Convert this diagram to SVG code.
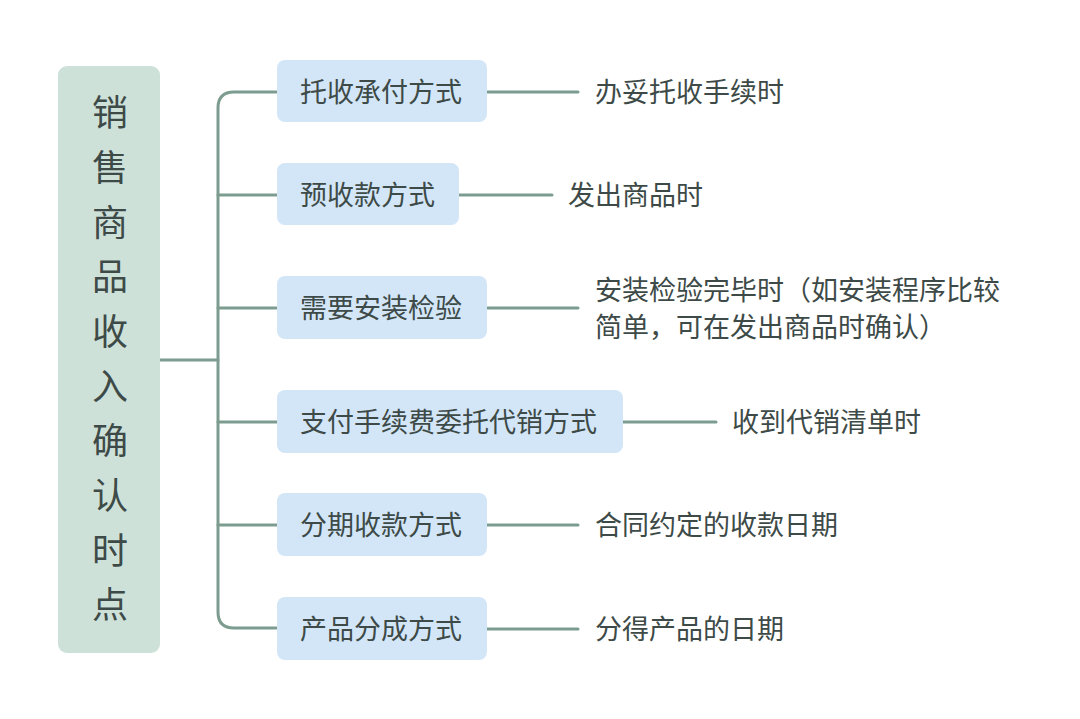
<svg xmlns="http://www.w3.org/2000/svg" width="1080" height="719" viewBox="0 0 1080 719">
<style>
.t{font-family:"Noto Sans CJK SC","Noto Sans",sans-serif;fill:#3d4a47;font-size:27px;dominant-baseline:central}
.b{fill:#d3e6f8}
.c{fill:none;stroke:#7d9c90;stroke-width:3;stroke-linecap:round}
.r{font-family:"Noto Sans CJK SC",sans-serif;fill:#3d4a47;font-size:36px;text-anchor:middle;dominant-baseline:central}
</style>
<rect width="1080" height="719" fill="#fff"/>
<g id="connectors">
<path class="c" d="M160 360H218"/>
<path class="c" d="M277 92H234Q218 92 218 108V612Q218 628 234 628H277"/>
<path class="c" d="M218 195H277M218 308H277M218 422H277M218 525H277"/>
<path class="c" d="M487 92H578M459 195H552M487 308H578M623 422H716M487 525H578M487 629H578"/>
</g>
<g id="root"><rect x="58" y="66" width="102" height="587" rx="9" fill="#cde1d9"/>
<text class="r" x="110" y="110">销</text><text class="r" x="110" y="165">售</text><text class="r" x="110" y="220">商</text><text class="r" x="110" y="274">品</text><text class="r" x="110" y="329">收</text><text class="r" x="110" y="384">入</text><text class="r" x="110" y="438">确</text><text class="r" x="110" y="493">认</text><text class="r" x="110" y="548">时</text><text class="r" x="110" y="602">点</text></g>
<g id="n1"><rect class="b" x="277" y="60" width="210" height="62" rx="8"/><text class="t" x="300" y="90">托收承付方式</text></g>
<g id="n2"><rect class="b" x="277" y="163" width="182" height="62" rx="8"/><text class="t" x="300" y="193">预收款方式</text></g>
<g id="n3"><rect class="b" x="277" y="276" width="210" height="63" rx="8"/><text class="t" x="300" y="306">需要安装检验</text></g>
<g id="n4"><rect class="b" x="277" y="390" width="346" height="63" rx="8"/><text class="t" x="300" y="420">支付手续费委托代销方式</text></g>
<g id="n5"><rect class="b" x="277" y="493" width="210" height="63" rx="8"/><text class="t" x="300" y="523">分期收款方式</text></g>
<g id="n6"><rect class="b" x="277" y="597" width="210" height="63" rx="8"/><text class="t" x="300" y="627">产品分成方式</text></g>
<g id="l1"><text class="t" x="595" y="90">办妥托收手续时</text></g>
<g id="l2"><text class="t" x="568" y="193">发出商品时</text></g>
<g id="l3"><text class="t" x="595" y="288">安装检验完毕时（如安装程序比较</text><text class="t" x="595" y="325">简单，可在发出商品时确认）</text></g>
<g id="l4"><text class="t" x="732" y="420">收到代销清单时</text></g>
<g id="l5"><text class="t" x="595" y="523">合同约定的收款日期</text></g>
<g id="l6"><text class="t" x="595" y="627">分得产品的日期</text></g>
</svg>
